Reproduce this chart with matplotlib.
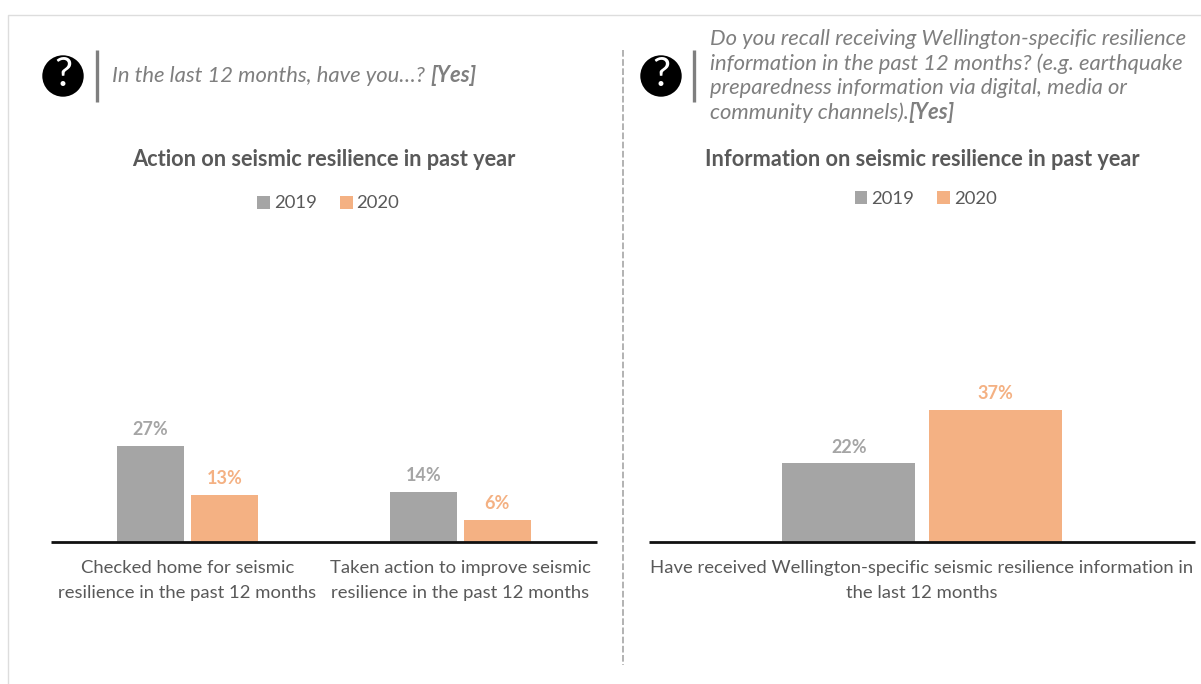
import matplotlib
matplotlib.use("Agg")
from matplotlib import pyplot as plt
from matplotlib.patches import Circle

plt.rcParams['font.family'] = ['Lato', 'DejaVu Sans']

W, H = 1201, 684

years = ["2019", "2020"]
action_labels = ["Checked home for seismic\nresilience in the past 12 months",
                 "Taken action to improve seismic\nresilience in the past 12 months"]
action_2019 = [27, 14]
action_2020 = [13, 6]

info_labels = ["Have received Wellington-specific seismic resilience information in\nthe last 12 months"]
info_2019 = [22]
info_2020 = [37]

GREY = "#A5A5A5"
ORANGE = "#F4B183"
TEXT = "#595959"
QUESTION = "#7F7F7F"
YMAX = 89
PX_PER_UNIT = 3.55
BASE_Y = 541.5


def fx(x):
    return x / W


def fy(y):
    return 1 - y / H


def bars(ax, labels, v2019, v2020, offset, width):
    xs = list(range(len(labels)))
    b1 = ax.bar([x - offset for x in xs], v2019, width, color=GREY, label=years[0])
    b2 = ax.bar([x + offset for x in xs], v2020, width, color=ORANGE, label=years[1])
    ax.bar_label(b1, fmt="%d%%", padding=5.5, color=GREY, fontsize=13, fontweight="bold")
    ax.bar_label(b2, fmt="%d%%", padding=6, color=ORANGE, fontsize=13, fontweight="bold")
    ax.set_xlim(-0.5, len(labels) - 0.5)
    ax.set_ylim(0, YMAX)
    ax.set_xticks(xs)
    ax.set_xticklabels(labels, color=TEXT, fontsize=13.3, linespacing=1.67)
    ax.tick_params(axis="x", length=0, pad=13.5)
    ax.set_yticks([])
    for s in ["top", "left", "right"]:
        ax.spines[s].set_visible(False)
    ax.spines["bottom"].set_linewidth(2)
    ax.spines["bottom"].set_color("#111111")
    ax.spines["bottom"].set_capstyle("butt")
    ax.patch.set_alpha(0)


def legend(ax, cx, cy):
    ax.legend(loc="center", bbox_to_anchor=(fx(cx), fy(cy)), bbox_transform=fig.transFigure,
              ncol=2, frameon=False, fontsize=13.3, labelcolor=TEXT, handlelength=0.7,
              handleheight=0.7, handletextpad=0.2, columnspacing=1.25, borderpad=0)


def question_mark(over, cx, bar_x):
    over.add_patch(Circle((cx, 76), 20.7, color="black", lw=0))
    over.text(cx, 75, "?", color="white", fontsize=29, ha="center", va="center")
    over.plot([bar_x, bar_x], [50, 102], color="#7F7F7F", lw=2.4, solid_capstyle="butt")


fig = plt.figure(figsize=(W / 100, H / 100), dpi=100, facecolor="white")

# overlay in pixel coordinates for the frame, icons and divider
over = fig.add_axes([0, 0, 1, 1])
over.set_xlim(0, W)
over.set_ylim(H, 0)
over.axis("off")
over.plot([8, 8, W], [H, 14.5, 14.5], color="#DDDDDD", lw=1)
over.plot([623, 623], [50, 665], color="#A6A6A6", lw=1.2, ls=(0, (4, 1.5)))
question_mark(over, 63, 96.5)
question_mark(over, 661, 693.5)

ax1 = fig.add_axes([fx(51), fy(BASE_Y), fx(546), YMAX * PX_PER_UNIT / H])
bars(ax1, action_labels, action_2019, action_2020, 0.135, 0.245)
legend(ax1, 328, 203.5)

ax2 = fig.add_axes([fx(649), fy(BASE_Y), fx(546), YMAX * PX_PER_UNIT / H])
bars(ax2, info_labels, info_2019, info_2020, 0.134, 0.244)
legend(ax2, 925.5, 198.5)

fig.text(fx(324), fy(159), "Action on seismic resilience in past year", color=TEXT,
         fontsize=15.7, fontweight="bold", ha="center", va="center")
fig.text(fx(922), fy(159), "Information on seismic resilience in past year", color=TEXT,
         fontsize=15.7, fontweight="bold", ha="center", va="center")

q1 = fig.text(fx(112), fy(76), "In the last 12 months, have you…? ", color=QUESTION,
              fontsize=15.8, style="italic", va="center")
over.annotate("[Yes]", xy=(1, 0), xycoords=q1, va="bottom", color=QUESTION,
              fontsize=15.8, style="italic", fontweight="bold")

q2_lines = ["Do you recall receiving Wellington-specific resilience",
            "information in the past 12 months? (e.g. earthquake",
            "preparedness information via digital, media or"]
q2_y = [39, 64, 88]
for line, y in zip(q2_lines, q2_y):
    fig.text(fx(710), fy(y), line, color=QUESTION, fontsize=15.8, style="italic", va="center")
q3 = fig.text(fx(710), fy(113), "community channels).", color=QUESTION, fontsize=15.8,
              style="italic", va="center")
over.annotate("[Yes]", xy=(1, 0), xycoords=q3, va="bottom", color=QUESTION,
              fontsize=15.8, style="italic", fontweight="bold")

fig.savefig("out.png", dpi=100)
